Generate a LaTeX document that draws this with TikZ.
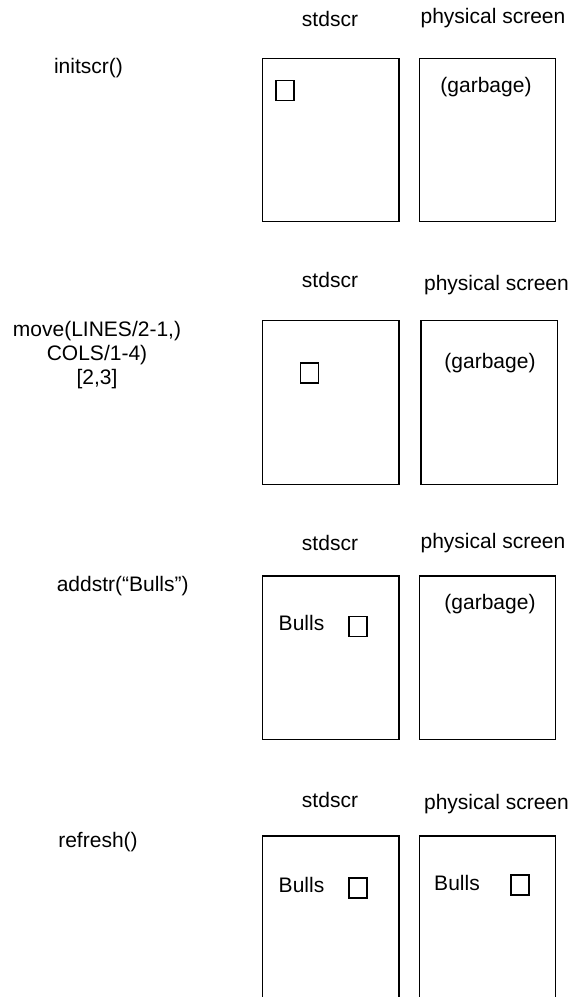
\documentclass[tikz,border=0pt]{standalone}
\usepackage{fontspec}
\setmainfont{Liberation Sans}
\begin{document}
\begin{tikzpicture}[x=1pt, y=-1pt,
  every node/.style={font=\fontsize{21}{24}\selectfont},
  screenbox/.style={draw, line width=1.1pt, inner sep=0pt, outer sep=0pt,
    anchor=north west, minimum width=136.3pt, minimum height=163.4pt},
  cursorbox/.style={draw, line width=1.1pt, inner sep=0pt, outer sep=0pt,
    anchor=north west, minimum width=18pt, minimum height=20pt},
  txt/.style={anchor=base, inner sep=0pt, outer sep=0pt},
  cmd/.style={anchor=center, inner sep=0pt, align=center}]

% ---- step 1: initscr()
\node[cmd] (c1) at (88.5,68) {initscr()};
\node[txt] (h1a) at (330,26) {stdscr};
\node[txt] (h1b) at (493,23) {physical screen};
\node[screenbox] (s1) at (262.7,58.3) {};
\node[screenbox] (p1) at (419.3,58.3) {};
\node[cursorbox] (k1) at (276,80.5) {};
\node[txt] (g1) at (486,92) {(garbage)};

% ---- step 2: move()
\node[cmd] (c2) at (97,355) {move(LINES/2-1,)\\COLS/1-4)\\{[2,3]}};
\node[txt] (h2a) at (330,287) {stdscr};
\node[txt] (h2b) at (496.5,290) {physical screen};
\node[screenbox] (s2) at (262.7,320.7) {};
\node[screenbox] (p2) at (421,320.7) {};
\node[cursorbox] (k2) at (300.5,363) {};
\node[txt] (g2) at (490,368) {(garbage)};

% ---- step 3: addstr()
\node[cmd] (c3) at (122.7,586) {addstr(“Bulls”)};
\node[txt] (h3a) at (330,550.5) {stdscr};
\node[txt] (h3b) at (493,548) {physical screen};
\node[screenbox] (s3) at (262.7,576) {};
\node[screenbox] (p3) at (419.3,576) {};
\node[txt] (b3) at (301.5,630) {Bulls};
\node[cursorbox] (k3) at (349,616.5) {};
\node[txt] (g3) at (490,609) {(garbage)};

% ---- step 4: refresh()
\node[cmd] (c4) at (98,842) {refresh()};
\node[txt] (h4a) at (330,807) {stdscr};
\node[txt] (h4b) at (496.5,809) {physical screen};
\node[screenbox] (s4) at (262.7,836) {};
\node[screenbox] (p4) at (419.3,836) {};
\node[txt] (b4a) at (301.5,892) {Bulls};
\node[cursorbox] (k4a) at (349,878) {};
\node[txt] (b4b) at (457,890) {Bulls};
\node[cursorbox] (k4b) at (511,875) {};

\pgfresetboundingbox
\path[use as bounding box] (0,0) rectangle (575,997);
\end{tikzpicture}
\end{document}
